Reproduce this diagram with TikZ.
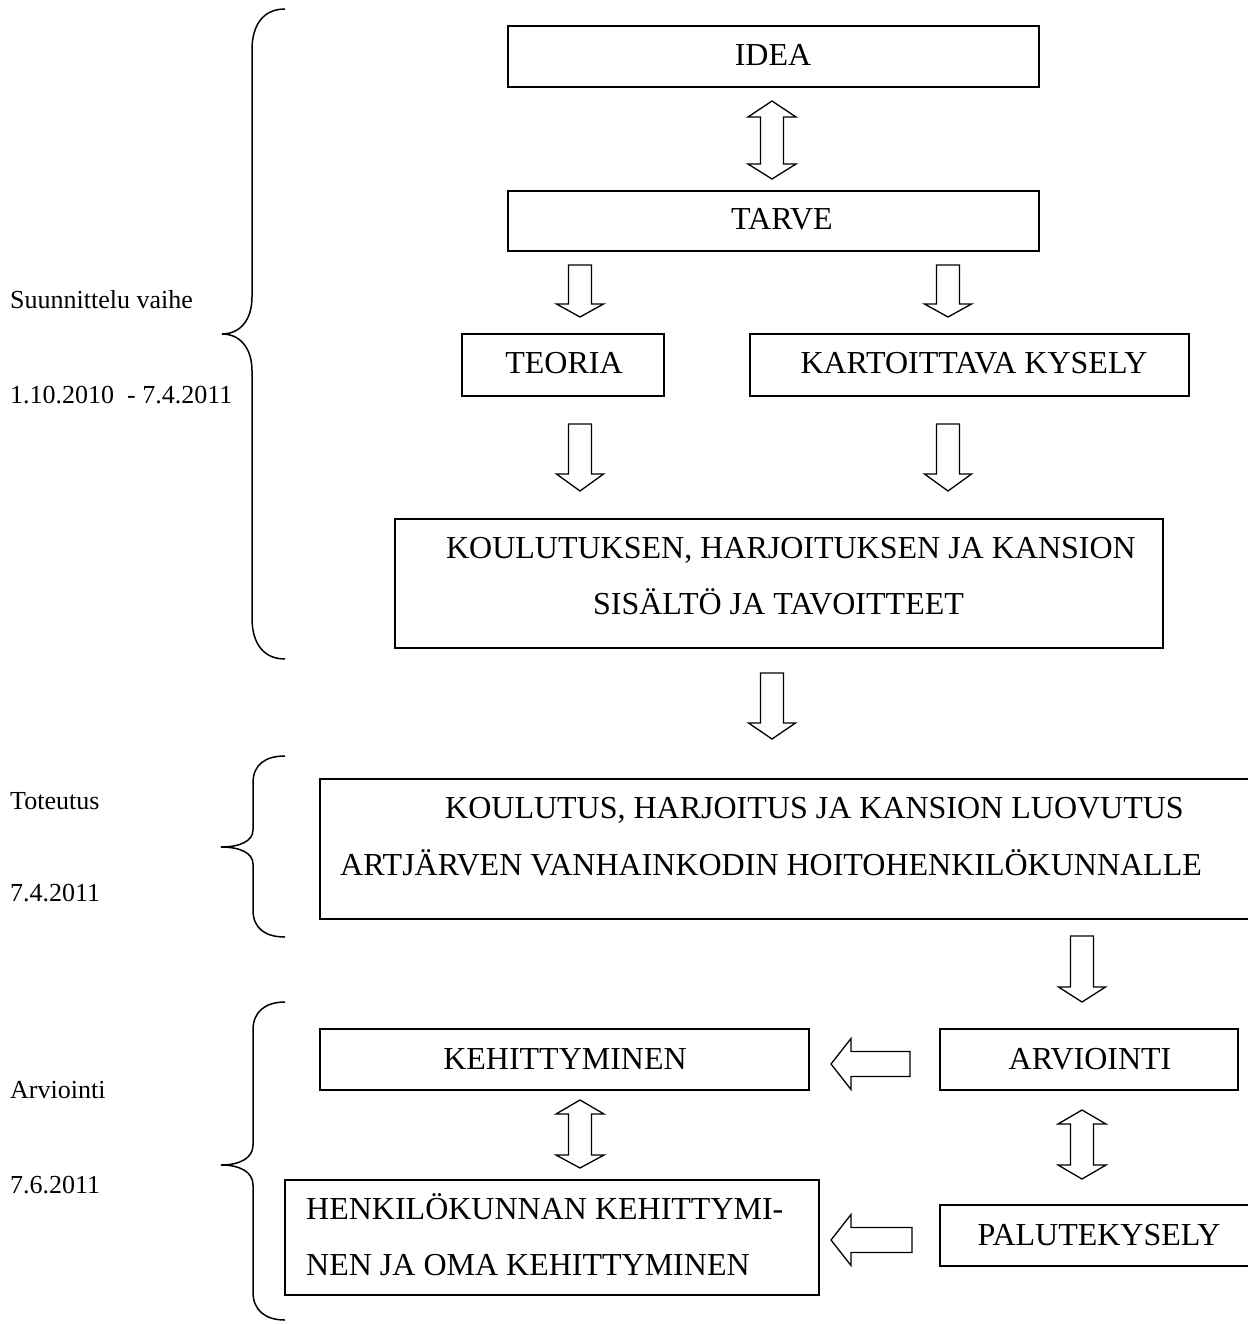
\documentclass[tikz,border=0pt]{standalone}
\usepackage{fontspec}
\setmainfont{Liberation Serif}
\newcommand\BlkDn[4]{\draw[blk] (#1-11.5,#2) -- (#1+11.5,#2) -- (#1+11.5,#3) -- (#1+23.5,#3) -- (#1,#4) -- (#1-23.5,#3) -- (#1-11.5,#3) -- cycle;}
\newcommand\BlkDbl[5]{\draw[blk] (#1,#2) -- (#1+24,#3) -- (#1+11.5,#3) -- (#1+11.5,#4) -- (#1+24,#4) -- (#1,#5) -- (#1-24,#4) -- (#1-11.5,#4) -- (#1-11.5,#3) -- (#1-24,#3) -- cycle;}
\newcommand\BlkLf[4]{\draw[blk] (#1,#2) -- (#3,#2-25.5) -- (#3,#2-12.5) -- (#4,#2-12.5) -- (#4,#2+12.5) -- (#3,#2+12.5) -- (#3,#2+25.5) -- cycle;}
\begin{document}
\begin{tikzpicture}[x=1pt,y=-1pt,
  bx/.style={draw=black,line width=1.8pt,inner sep=0pt,anchor=north west},
  bt/.style={inner sep=0pt,font=\fontsize{32}{38}\selectfont},
  lb/.style={inner sep=0pt,anchor=base west,font=\fontsize{26}{30}\selectfont},
  blk/.style={draw=black,line width=1.3pt,fill=white,line join=miter},
  brc/.style={draw=black,line width=1.5pt}]
\useasboundingbox (0,0) rectangle (1247,1324);
\fill[white] (0,0) rectangle (1247,1324);

% boxes
\node[bx,minimum width=531pt,minimum height=61pt] (idea) at (507,25) {};
\node[bx,minimum width=531pt,minimum height=60pt] (tarve) at (507,190) {};
\node[bx,minimum width=202pt,minimum height=62pt] (teoria) at (461,333) {};
\node[bx,minimum width=439pt,minimum height=62pt] (kart) at (749,333) {};
\node[bx,minimum width=768pt,minimum height=129pt] (sis) at (394,518) {};
\node[bx,minimum width=935pt,minimum height=140pt] (koul) at (319,778) {};
\node[bx,minimum width=489pt,minimum height=61pt] (kehit) at (319,1028) {};
\node[bx,minimum width=298pt,minimum height=61pt] (arvio) at (939,1028) {};
\node[bx,minimum width=534pt,minimum height=115pt] (henk) at (284,1179) {};
\node[bx,minimum width=315pt,minimum height=61pt] (palute) at (939,1204) {};

% box texts
\node[bt,anchor=base] (tidea) at (773,66) {IDEA};
\node[bt,anchor=base] (ttarve) at (782,230) {TARVE};
\node[bt,anchor=base] (tteoria) at (564,373) {TEORIA};
\node[bt,anchor=base] (tkart) at (974,373) {KARTOITTAVA KYSELY};
\node[bt,anchor=base] (tsis1) at (791,558) {KOULUTUKSEN, HARJOITUKSEN JA KANSION};
\node[bt,anchor=base] (tsis2) at (778.5,614) {SISÄLTÖ JA TAVOITTEET};
\node[bt,anchor=base west] (tkoul1) at (445,818) {KOULUTUS, HARJOITUS JA KANSION LUOVUTUS};
\node[bt,anchor=base west] (tkoul2) at (340,875) {ARTJÄRVEN VANHAINKODIN HOITOHENKILÖKUNNALLE};
\node[bt,anchor=base] (tkehit) at (565,1069) {KEHITTYMINEN};
\node[bt,anchor=base] (tarvio) at (1090,1069) {ARVIOINTI};
\node[bt,anchor=base west] (thenk1) at (306,1219) {HENKILÖKUNNAN KEHITTYMI-};
\node[bt,anchor=base west] (thenk2) at (306,1275) {NEN JA OMA KEHITTYMINEN};
\node[bt,anchor=base] (tpalute) at (1099,1245) {PALUTEKYSELY};

% block arrows
\BlkDbl{772}{101}{117}{164}{179}
\BlkDn{580}{265}{304}{317}
\BlkDn{948}{265}{304}{317}
\BlkDn{580}{424}{474}{491}
\BlkDn{948}{424}{474}{491}
\BlkDn{772}{673}{723}{739}
\BlkDn{1082}{936}{987}{1002}
\BlkLf{831}{1064}{851}{910}
\BlkLf{831}{1240}{851}{912}
\BlkDbl{580}{1100}{1114}{1155}{1168}
\BlkDbl{1082}{1110}{1124}{1165}{1179}

% braces
\draw[brc] (285,9) .. controls (264,9) and (252,24) .. (252,50) -- (252,297)
  .. controls (252,320) and (240,334) .. (222,334)
  .. controls (240,334) and (252,348) .. (252,371) -- (252,618)
  .. controls (252,644) and (264,659) .. (285,659);
\draw[brc] (285,756) .. controls (266,756) and (253,764) .. (253,783) -- (253,830)
  .. controls (253,841) and (240,847) .. (221,847)
  .. controls (240,847) and (253,853) .. (253,864) -- (253,910)
  .. controls (253,929) and (266,937) .. (285,937);
\draw[brc] (285,1002) .. controls (265,1002) and (253,1012) .. (253,1030) -- (253,1145)
  .. controls (253,1158) and (240,1165) .. (221,1165)
  .. controls (240,1165) and (253,1172) .. (253,1185) -- (253,1292)
  .. controls (253,1310) and (265,1320) .. (285,1320);

% side labels
\node[lb] (l1) at (10,308) {Suunnittelu vaihe};
\node[lb] (l2) at (10,403) {1.10.2010\ \ - 7.4.2011};
\node[lb] (l3) at (10,809) {Toteutus};
\node[lb] (l4) at (10,901) {7.4.2011};
\node[lb] (l5) at (10,1098) {Arviointi};
\node[lb] (l6) at (10,1193) {7.6.2011};
\end{tikzpicture}
\end{document}
